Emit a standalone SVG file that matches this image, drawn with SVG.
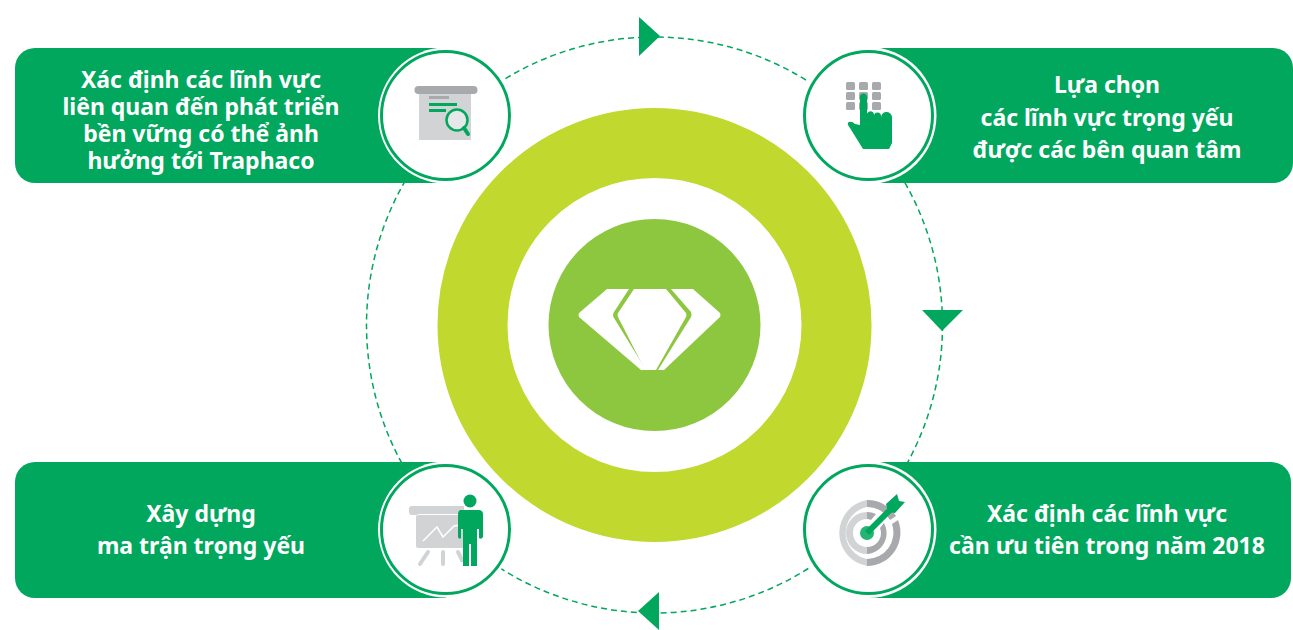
<svg xmlns="http://www.w3.org/2000/svg" width="1293" height="630" viewBox="0 0 1293 630">
<style>
.bar{fill:#00a75d}
.halo{fill:#fff}
.ring{fill:#fff;stroke:#00a75d;stroke-width:3}
.g{fill:#00a75d}
.lbl{font-family:"Noto Sans","Open Sans",sans-serif;font-weight:700;font-size:23px;fill:#fff;text-anchor:middle}
.dash{fill:none;stroke:#00a75d;stroke-width:1.5;stroke-dasharray:6 4}
.gy{fill:#a7a9ac}
.lg{fill:#d1d3d4}
</style>
<rect width="1293" height="630" fill="#fff"/>
<g id="connectors">
<circle class="dash" cx="654.5" cy="325" r="288"/>
<polygon class="g" points="639,17 660,36 639,56"/>
<polygon class="g" points="922,310 963,310 942,331"/>
<polygon class="g" points="659,592 659,630 638,611"/>
</g>
<g id="center">
<circle cx="654.5" cy="325" r="182" fill="none" stroke="#c1d82f" stroke-width="70"/>
<circle cx="654.5" cy="325" r="106" fill="#8dc63f"/>
<path fill="#fff" d="M607,289L579,313Q578,315 579,317L641,370H646L614,318Q612,315 614,312L629,289Z"/>
<path fill="#fff" d="M634,289L618,313Q617,315 618,317L645,370H656L683,370Z" opacity="0"/>
<path fill="#fff" d="M634,289H666L686,313Q687,315 686,317L656,370H645L618,317Q617,315 618,313Z" transform="translate(0,0)"/>
<path fill="#fff" d="M671,289H693L720,313Q721,315 720,317L664,370H658L691,317Q692,315 691,312Z"/>
</g>
<g id="node-tl">
<path class="bar" d="M35,48H446V183H35A20,20 0 0 1 15,163V68A20,20 0 0 1 35,48Z"/>
<circle class="halo" cx="446" cy="115.500" r="68"/>
<circle class="ring" cx="445.500" cy="115.500" r="64"/>
<rect class="lg" x="419" y="88" width="52" height="52"/>
<rect class="gy" x="414.500" y="86" width="63" height="8" rx="4"/>
<rect class="gy" x="429" y="96" width="20" height="3"/>
<rect class="g" x="429" y="103" width="28" height="3"/>
<rect class="g" x="429" y="109" width="17" height="3"/>
<circle cx="457" cy="120" r="10.500" fill="#e6e7e8" stroke="#00a75d" stroke-width="2.500"/>
<path d="M464,128L468,134" stroke="#00a75d" stroke-width="4" stroke-linecap="round"/>
<text class="lbl" x="201" y="88">Xác định các lĩnh vực</text>
<text class="lbl" x="201" y="115">liên quan đến phát triển</text>
<text class="lbl" x="201" y="142">bền vững có thể ảnh</text>
<text class="lbl" x="201" y="169">hưởng tới Traphaco</text>
</g>
<g id="node-tr">
<path class="bar" d="M868,48H1273A20,20 0 0 1 1293,68V163A20,20 0 0 1 1273,183H868Z"/>
<circle class="halo" cx="868" cy="115.500" r="68.500"/>
<circle class="ring" cx="868.500" cy="115.500" r="64"/>
<g class="gy">
<rect x="846" y="82" width="9" height="8" rx="1.500"/><rect x="859" y="82" width="9" height="8" rx="1.500"/><rect x="872" y="82" width="9" height="8" rx="1.500"/>
<rect x="846" y="92" width="9" height="8" rx="1.500"/><rect x="859" y="92" width="9" height="8" rx="1.500"/><rect x="872" y="92" width="9" height="8" rx="1.500"/>
<rect x="846" y="102" width="9" height="8" rx="1.500"/><rect x="859" y="102" width="9" height="8" rx="1.500"/><rect x="872" y="102" width="9" height="8" rx="1.500"/>
</g>
<path class="g" d="M860,125V97A3.500,3.500 0 0 1 867,97V114V116A3,3 0 0 1 874,114V116A3,3 0 0 1 881,116V118A3,3 0 0 1 892,117V143L889,149H863L850,128Q846,123 849,122Q852,121 855,124Z"/>
<text class="lbl" x="1107" y="93">Lựa chọn</text>
<text class="lbl" x="1107" y="126">các lĩnh vực trọng yếu</text>
<text class="lbl" x="1107" y="158">được các bên quan tâm</text>
</g>
<g id="node-bl">
<path class="bar" d="M35,462H446V598H35A20,20 0 0 1 15,578V482A20,20 0 0 1 35,462Z"/>
<circle class="halo" cx="446" cy="529.500" r="68"/>
<circle class="ring" cx="445.500" cy="529.500" r="64"/>
<rect class="lg" x="409" y="506" width="10" height="9" rx="3"/>
<rect class="lg" x="414" y="506" width="50" height="8"/>
<rect class="lg" x="416" y="515" width="48" height="33" rx="2"/>
<path d="M423,541L437,527L443,537L454,526L460,525" fill="none" stroke="#fff" stroke-width="1.500"/>
<path d="M428,552L420,564M443,552V564M458,552L462,560" stroke="#d1d3d4" stroke-width="4" stroke-linecap="round"/>
<circle class="g" cx="470" cy="501" r="6.500"/>
<path class="g" d="M460,510H480Q483,511 483,514V537Q481,540 479,538V529H477V566H471V544H469V566H463V529H461V538Q459,540 458,537V514Q458,511 460,510Z"/>
<text class="lbl" x="201" y="522">Xây dựng</text>
<text class="lbl" x="201" y="554">ma trận trọng yếu</text>
</g>
<g id="node-br">
<path class="bar" d="M868,462H1271A20,20 0 0 1 1291,482V578A20,20 0 0 1 1271,598H868Z"/>
<circle class="halo" cx="868" cy="529.500" r="68.500"/>
<circle class="ring" cx="868.500" cy="529.500" r="64"/>
<path class="lg" d="M867,500A33.500,33.500 0 0 0 867,566V559A26.500,26.500 0 0 1 867,507Z"/>
<path class="gy" d="M867,500A33.500,33.500 0 0 1 896,516L890,520A26.500,26.500 0 0 0 867,507ZM898,520A33.500,33.500 0 0 1 867,566V559A26.500,26.500 0 0 0 892,524Z"/>
<path class="lg" d="M867,512A21,21 0 0 0 867,554V547A14,14 0 0 1 867,519Z"/>
<path class="gy" d="M867,512A21,21 0 0 1 876,514L871,520Q869,519 867,519ZM884,523A21,21 0 0 1 867,554V547A14,14 0 0 0 881,533Q881,530 880,528Z"/>
<circle class="g" cx="867" cy="533" r="7" opacity=".85"/>
<path d="M867,533L893,507" stroke="#00a75d" stroke-width="6"/>
<polygon class="g" points="886,504 897,494 899,501 905,502 895,513 888,512"/>
<text class="lbl" x="1107" y="522">Xác định các lĩnh vực</text>
<text class="lbl" x="1107" y="554">cần ưu tiên trong năm 2018</text>
</g>
</svg>
